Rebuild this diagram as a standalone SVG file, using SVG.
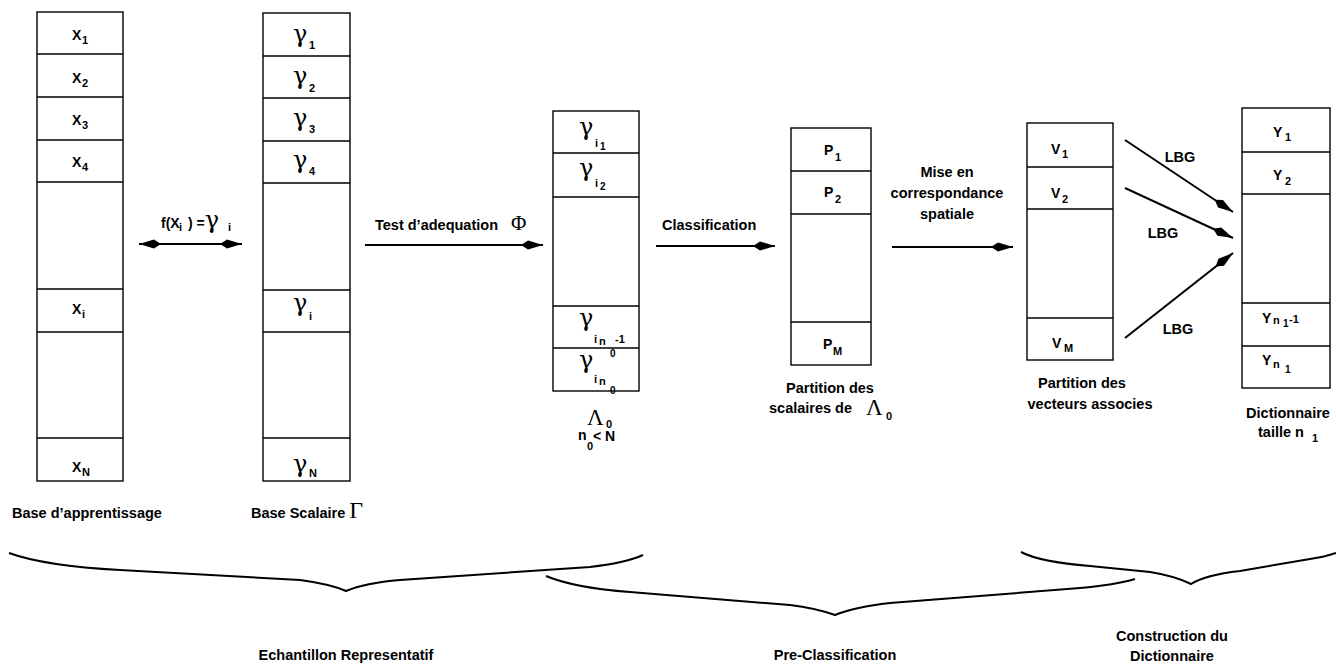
<svg xmlns="http://www.w3.org/2000/svg" width="1336" height="669" viewBox="0 0 1336 669">
<style>
.box{fill:none;stroke:#000;stroke-width:1.4}
.ln{stroke:#000;stroke-width:1.4}
.t{font-family:"Liberation Sans",Arial,Helvetica,sans-serif;font-weight:bold;font-size:14.5px;fill:#000}
.c{font-family:"Liberation Sans",Arial,Helvetica,sans-serif;font-weight:bold;font-size:14px;fill:#000}
.s{font-size:11px}
.ss{font-size:10px}
.g{font-family:"DejaVu Serif","Liberation Serif",serif;font-weight:normal;font-size:24px;fill:#000}
.L{font-family:"Liberation Serif","Times New Roman",serif;font-weight:normal;fill:#000}
.arr{stroke:#000;stroke-width:2;fill:none}
.br{stroke:#000;stroke-width:2;fill:none}
</style>
<defs>
<marker id="ah" markerUnits="userSpaceOnUse" viewBox="0 0 22 12" refX="22" refY="6" markerWidth="22" markerHeight="12" orient="auto-start-reverse">
<path d="M0,6 L7,1.5 L22,6 L7,10.5 Z" fill="#000"/>
</marker>
</defs>
<rect width="1336" height="669" fill="#fff"/>

<g id="col-x">
<rect class="box" x="37" y="12" width="86" height="469"/>
<line class="ln" x1="37" y1="54" x2="123" y2="54"/>
<line class="ln" x1="37" y1="97" x2="123" y2="97"/>
<line class="ln" x1="37" y1="140" x2="123" y2="140"/>
<line class="ln" x1="37" y1="182" x2="123" y2="182"/>
<line class="ln" x1="37" y1="289" x2="123" y2="289"/>
<line class="ln" x1="37" y1="332" x2="123" y2="332"/>
<line class="ln" x1="37" y1="438" x2="123" y2="438"/>
<text class="c" x="72" y="40">X<tspan class="s" x="82" y="44">1</tspan></text>
<text class="c" x="72" y="83">X<tspan class="s" x="82" y="87">2</tspan></text>
<text class="c" x="72" y="125">X<tspan class="s" x="82" y="129">3</tspan></text>
<text class="c" x="72" y="167">X<tspan class="s" x="82" y="171">4</tspan></text>
<text class="c" x="72" y="314">X<tspan class="s" x="82" y="318">i</tspan></text>
<text class="c" x="72" y="472">X<tspan class="s" x="82" y="476">N</tspan></text>
<text class="t" x="12" y="518">Base d’apprentissage</text>
</g>

<g id="col-gamma">
<rect class="box" x="263" y="13" width="87" height="468"/>
<line class="ln" x1="263" y1="56" x2="350" y2="56"/>
<line class="ln" x1="263" y1="98" x2="350" y2="98"/>
<line class="ln" x1="263" y1="141" x2="350" y2="141"/>
<line class="ln" x1="263" y1="183" x2="350" y2="183"/>
<line class="ln" x1="263" y1="290" x2="350" y2="290"/>
<line class="ln" x1="263" y1="332" x2="350" y2="332"/>
<line class="ln" x1="263" y1="438" x2="350" y2="438"/>
<text class="g" x="293" y="42">γ</text><text class="c s" x="309" y="49">1</text>
<text class="g" x="293" y="84">γ</text><text class="c s" x="309" y="92">2</text>
<text class="g" x="293" y="126">γ</text><text class="c s" x="309" y="133">3</text>
<text class="g" x="293" y="168">γ</text><text class="c s" x="309" y="175">4</text>
<text class="g" x="293" y="311">γ</text><text class="c s" x="309" y="320">i</text>
<text class="g" x="293" y="472">γ</text><text class="c s" x="309" y="477">N</text>
<text class="t" x="251" y="518">Base Scalaire <tspan class="L" font-size="24px">Γ</tspan></text>
</g>

<g id="col-lambda">
<rect class="box" x="553" y="111" width="86" height="280"/>
<line class="ln" x1="553" y1="153" x2="639" y2="153"/>
<line class="ln" x1="553" y1="197" x2="639" y2="197"/>
<line class="ln" x1="553" y1="306" x2="639" y2="306"/>
<line class="ln" x1="553" y1="348" x2="639" y2="348"/>
<text class="g" x="579" y="135">γ</text><text class="c s" x="595" y="147">i</text><text class="c ss" x="600" y="150">1</text>
<text class="g" x="579" y="176">γ</text><text class="c s" x="595" y="187">i</text><text class="c ss" x="600" y="190">2</text>
<text class="g" x="579" y="326">γ</text><text class="c s" x="594" y="343">i</text><text class="c s" x="599" y="345">n</text><text class="c ss" x="610" y="357">0</text><text class="c s" x="615" y="343">-1</text>
<text class="g" x="579" y="368">γ</text><text class="c s" x="594" y="383">i</text><text class="c s" x="599" y="385">n</text><text class="c ss" x="610" y="394">0</text>
<text class="L" x="587" y="425" font-size="23px">Λ</text><text class="c s" x="606" y="428">0</text>
<text class="c" x="578" y="440" font-size="12px">n</text><text class="c s" x="587" y="450">0</text><text class="c" x="593" y="441" font-size="12px">&lt; N</text>
</g>

<g id="col-p">
<rect class="box" x="791" y="128" width="80" height="237"/>
<line class="ln" x1="791" y1="171" x2="871" y2="171"/>
<line class="ln" x1="791" y1="214" x2="871" y2="214"/>
<line class="ln" x1="791" y1="322" x2="871" y2="322"/>
<text class="c" x="824" y="155">P<tspan class="s" x="835" y="161">1</tspan></text>
<text class="c" x="824" y="197">P<tspan class="s" x="835" y="203">2</tspan></text>
<text class="c" x="823" y="349">P<tspan class="s" x="833" y="355">M</tspan></text>
<text class="t" x="830" y="393" text-anchor="middle">Partition des</text>
<text class="t" x="769" y="413">scalaires de <tspan class="L" font-size="23px" x="866" y="415">Λ</tspan><tspan class="s" x="886" y="420">0</tspan></text>
</g>

<g id="col-v">
<rect class="box" x="1027" y="123" width="86" height="237"/>
<line class="ln" x1="1027" y1="167" x2="1113" y2="167"/>
<line class="ln" x1="1027" y1="209" x2="1113" y2="209"/>
<line class="ln" x1="1027" y1="318" x2="1113" y2="318"/>
<text class="c" x="1051" y="154">V<tspan class="s" x="1062" y="158">1</tspan></text>
<text class="c" x="1051" y="198">V<tspan class="s" x="1062" y="203">2</tspan></text>
<text class="c" x="1052" y="348">V<tspan class="s" x="1064" y="352">M</tspan></text>
<text class="t" x="1082" y="388" text-anchor="middle">Partition des</text>
<text class="t" x="1090" y="409" text-anchor="middle">vecteurs associes</text>
</g>

<g id="col-y">
<rect class="box" x="1242" y="108" width="88" height="280"/>
<line class="ln" x1="1242" y1="152" x2="1330" y2="152"/>
<line class="ln" x1="1242" y1="194" x2="1330" y2="194"/>
<line class="ln" x1="1242" y1="303" x2="1330" y2="303"/>
<line class="ln" x1="1242" y1="346" x2="1330" y2="346"/>
<text class="c" x="1273" y="137">Y<tspan class="s" x="1285" y="141">1</tspan></text>
<text class="c" x="1273" y="180">Y<tspan class="s" x="1285" y="185">2</tspan></text>
<text class="c" x="1262" y="323">Y<tspan class="s" x="1273" y="324">n</tspan><tspan class="ss" x="1283" y="327">1</tspan><tspan class="s" x="1289" y="323">-1</tspan></text>
<text class="c" x="1262" y="365">Y<tspan class="s" x="1273" y="368">n</tspan><tspan class="ss" x="1285" y="373">1</tspan></text>
<text class="t" x="1288" y="418" text-anchor="middle">Dictionnaire</text>
<text class="t" x="1258" y="437">taille n <tspan class="s" x="1312" y="442">1</tspan></text>
</g>

<g id="connectors">
<line class="arr" x1="139" y1="244" x2="242" y2="244" marker-start="url(#ah)" marker-end="url(#ah)"/>
<line class="arr" x1="365" y1="245" x2="543" y2="245" marker-end="url(#ah)"/>
<line class="arr" x1="656" y1="246" x2="775" y2="246" marker-end="url(#ah)"/>
<line class="arr" x1="892" y1="247" x2="1013" y2="247" marker-end="url(#ah)"/>
<line class="arr" x1="1125" y1="140" x2="1233" y2="212" marker-end="url(#ah)"/>
<line class="arr" x1="1125" y1="188" x2="1233" y2="238" marker-end="url(#ah)"/>
<line class="arr" x1="1125" y1="338" x2="1233" y2="253" marker-end="url(#ah)"/>
<text class="c" x="161" y="228" font-size="13px">f(X<tspan class="s" x="179" y="231">i</tspan><tspan x="184" y="228"> ) =</tspan><tspan class="g" font-size="22px">γ</tspan><tspan class="s" x="228" y="231">i</tspan></text>
<text class="t" x="375" y="230">Test d’adequation <tspan class="L" font-size="21px" x="511" y="230">Φ</tspan></text>
<text class="t" x="662" y="230">Classification</text>
<text class="t" x="947" y="177" text-anchor="middle">Mise en</text>
<text class="t" x="947" y="198" text-anchor="middle">correspondance</text>
<text class="t" x="947" y="219" text-anchor="middle">spatiale</text>
<text class="t" x="1180" y="162" text-anchor="middle">LBG</text>
<text class="t" x="1163" y="238" text-anchor="middle">LBG</text>
<text class="t" x="1178" y="334" text-anchor="middle">LBG</text>
</g>

<g id="braces">
<path class="br" d="M9,553 Q45,566 120,570 L300,580 Q330,584 346,591 Q365,583 400,580 L590,567 Q625,563 643,555"/>
<path class="br" d="M546,576 Q575,588 630,592 L790,605 Q815,608 835,615 Q855,607 890,603 L1080,588 Q1115,585 1135,579"/>
<path class="br" d="M1021,552 Q1040,562 1090,566 L1150,572 Q1175,576 1191,584 Q1205,575 1240,571 L1310,559 Q1325,557 1336,553"/>
<text class="t" x="346" y="660" text-anchor="middle">Echantillon Representatif</text>
<text class="t" x="835" y="660" text-anchor="middle">Pre-Classification</text>
<text class="t" x="1172" y="641" text-anchor="middle">Construction du</text>
<text class="t" x="1172" y="661" text-anchor="middle">Dictionnaire</text>
</g>
</svg>
